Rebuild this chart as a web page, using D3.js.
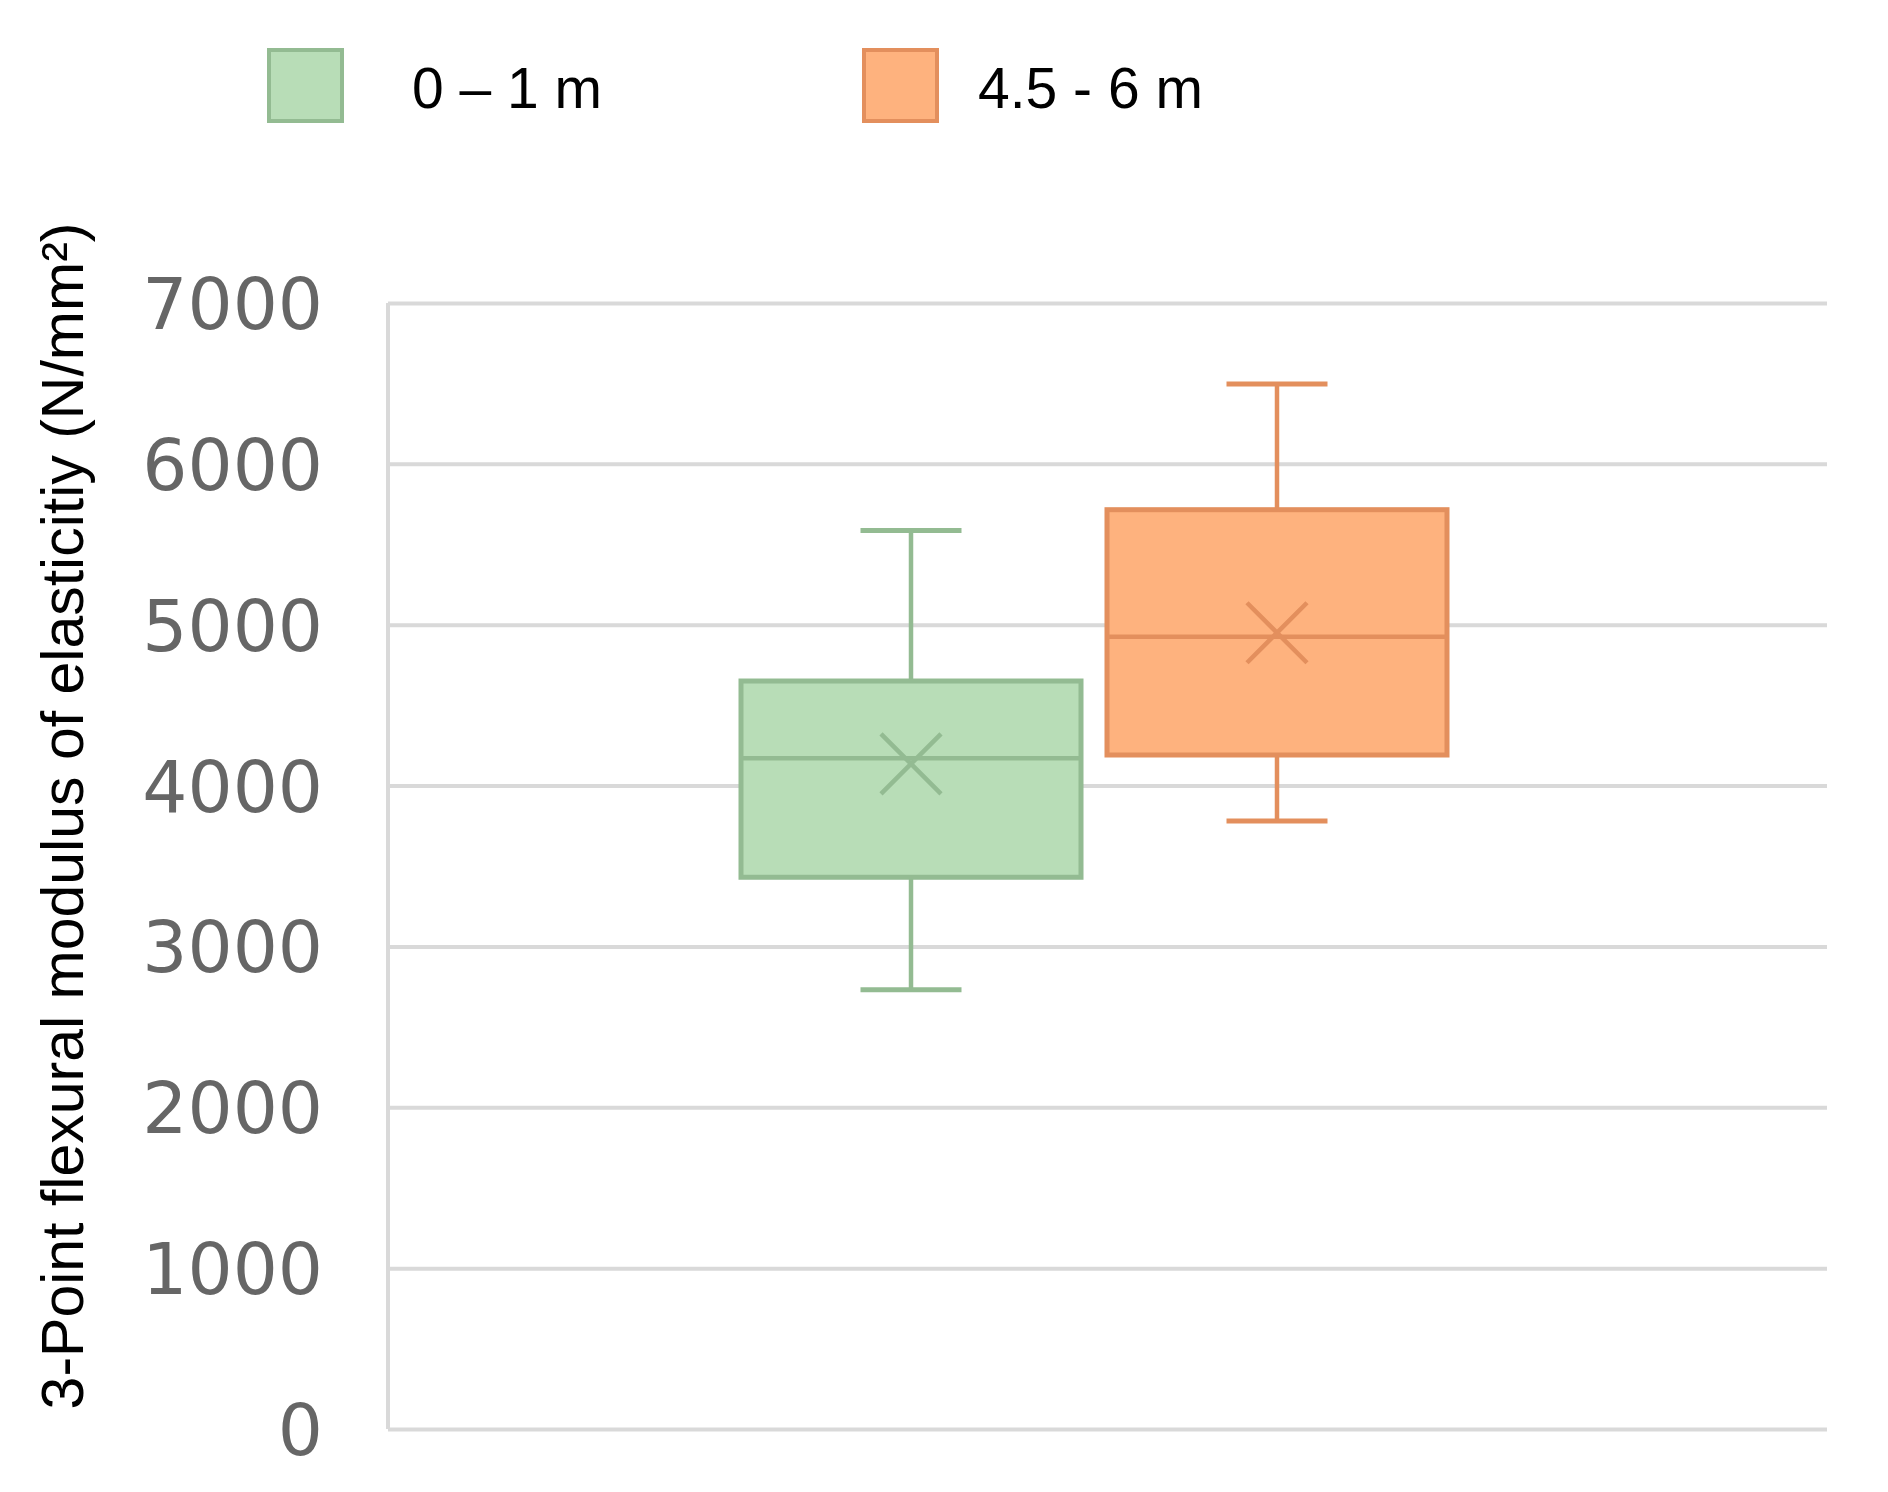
<!DOCTYPE html>
<html>
<head>
<meta charset="utf-8">
<script src="https://cdn.jsdelivr.net/npm/d3@7"></script>
<style>
  body { margin: 0; background: #fff; }
  svg { display: block; }
</style>
</head>
<body>
<div id="vis1"></div>
<script>
// box plot, flexural modulus by depth

// frame dimensions
const FRAME_WIDTH = 1888;
const FRAME_HEIGHT = 1492;

const MARGINS = {left: 388, right: 61, top: 303, bottom: 63};

// data
const series = ["0 – 1 m", "4.5 - 6 m"];
const mins = [2730, 3780];
const q1s = [3430, 4190];
const medians = [4170, 4925];
const q3s = [4650, 5715];
const maxs = [5585, 6497];
const means = [4135, 4950];
const yTicks = [0, 1000, 2000, 3000, 4000, 5000, 6000, 7000];

const fills = ["#b8ddb7", "#feb27e"];
const strokes = ["#93bb92", "#e38f5d"];

const FRAME1 = d3.select("#vis1")
  .append("svg")
    .attr("width", FRAME_WIDTH)
    .attr("height", FRAME_HEIGHT);

const VIS_WIDTH = FRAME_WIDTH - MARGINS.left - MARGINS.right;
const VIS_HEIGHT = FRAME_HEIGHT - MARGINS.top - MARGINS.bottom;

// scales
const Y_SCALE = d3.scaleLinear()
  .domain([0, 7000])
  .range([VIS_HEIGHT, 0]);

const X_SCALE = d3.scaleBand()
  .domain(series)
  .range([353, 1059])
  .paddingInner(0.071);

const plot = FRAME1.append("g")
  .attr("transform", "translate(" + MARGINS.left + "," + MARGINS.top + ")");

// gridlines + tick labels
const yAxis = plot.append("g")
  .call(d3.axisLeft(Y_SCALE)
    .tickValues(yTicks)
    .tickFormat(d3.format("d"))
    .tickSize(-VIS_WIDTH)
    .tickPadding(65));
yAxis.select(".domain").remove();
yAxis.selectAll(".tick line")
  .attr("stroke", "#d9d9d9")
  .attr("stroke-width", 4);
yAxis.selectAll(".tick text")
  .attr("font-family", "DejaVu Sans, Verdana, sans-serif")
  .attr("font-size", 71)
  .attr("fill", "#666666")
  .attr("dy", "0.36em");

// left axis line
plot.append("line")
  .attr("x1", 0).attr("x2", 0)
  .attr("y1", Y_SCALE(7000)).attr("y2", Y_SCALE(0))
  .attr("stroke", "#d9d9d9")
  .attr("stroke-width", 4);

// boxes
const bw = X_SCALE.bandwidth();
const capW = 101;
const xSize = 30;

series.forEach((s, i) => {
  const x0 = X_SCALE(s);
  const cx = x0 + bw / 2;
  const g = plot.append("g")
    .attr("stroke", strokes[i])
    .attr("stroke-width", 4.5);

  // whiskers
  g.append("line")
    .attr("x1", cx).attr("x2", cx)
    .attr("y1", Y_SCALE(maxs[i])).attr("y2", Y_SCALE(q3s[i]));
  g.append("line")
    .attr("x1", cx).attr("x2", cx)
    .attr("y1", Y_SCALE(q1s[i])).attr("y2", Y_SCALE(mins[i]));
  g.append("line")
    .attr("x1", cx - capW / 2).attr("x2", cx + capW / 2)
    .attr("y1", Y_SCALE(maxs[i])).attr("y2", Y_SCALE(maxs[i]))
    .attr("stroke-width", 5);
  g.append("line")
    .attr("x1", cx - capW / 2).attr("x2", cx + capW / 2)
    .attr("y1", Y_SCALE(mins[i])).attr("y2", Y_SCALE(mins[i]))
    .attr("stroke-width", 5);

  // box
  g.append("rect")
    .attr("x", x0)
    .attr("y", Y_SCALE(q3s[i]))
    .attr("width", bw)
    .attr("height", Y_SCALE(q1s[i]) - Y_SCALE(q3s[i]))
    .attr("fill", fills[i])
    .attr("stroke-width", 5);

  // median
  g.append("line")
    .attr("x1", x0).attr("x2", x0 + bw)
    .attr("y1", Y_SCALE(medians[i])).attr("y2", Y_SCALE(medians[i]));

  // mean marker
  const my = Y_SCALE(means[i]);
  g.append("path")
    .attr("d", "M" + (cx - xSize) + "," + (my - xSize) + "L" + (cx + xSize) + "," + (my + xSize) +
               "M" + (cx - xSize) + "," + (my + xSize) + "L" + (cx + xSize) + "," + (my - xSize))
    .attr("fill", "none");
});

// legend
const legendX = [267, 862];
const legendTextX = [412, 978];
const legend = FRAME1.append("g");
series.forEach((s, i) => {
  legend.append("rect")
    .attr("x", legendX[i] + 2)
    .attr("y", 50)
    .attr("width", 73)
    .attr("height", 71)
    .attr("fill", fills[i])
    .attr("stroke", strokes[i])
    .attr("stroke-width", 4);
  legend.append("text")
    .attr("x", legendTextX[i])
    .attr("y", 108)
    .attr("font-family", "Liberation Sans, Arial, sans-serif")
    .attr("font-size", 57)
    .attr("fill", "#000")
    .text(s);
});

// y title
FRAME1.append("text")
  .attr("transform", "translate(62,816) rotate(-90)")
  .attr("text-anchor", "middle")
  .attr("dy", "0.36em")
  .attr("font-family", "Liberation Sans, Arial, sans-serif")
  .attr("font-size", 59)
  .attr("fill", "#000")
  .text("3-Point flexural modulus of elasticitiy (N/mm²)");
</script>
</body>
</html>
